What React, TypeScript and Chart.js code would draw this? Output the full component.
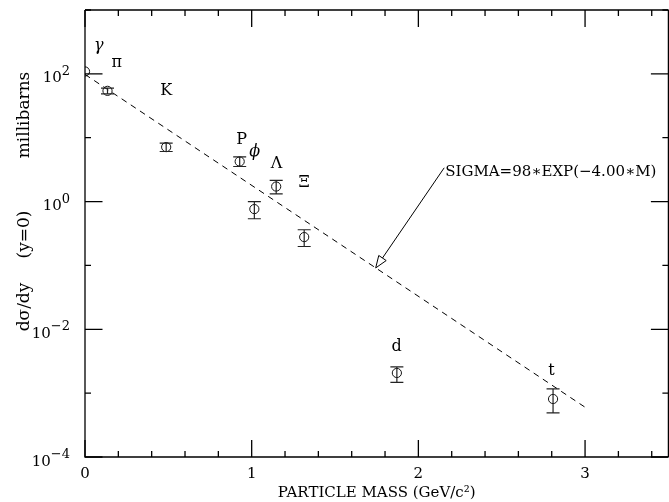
import React, { useEffect, useRef } from "react";
import { Chart, registerables } from "chart.js";

Chart.register(...registerables);

// ---- data ----
const particles = ["γ", "π", "K", "P", "ϕ", "Λ", "Ξ", "d", "t"];
const masses = [0, 0.135, 0.487, 0.928, 1.016, 1.147, 1.315, 1.871, 2.808];
const sigma = [109, 54.2, 7.13, 4.24, 0.763, 1.72, 0.278, 0.00207, 0.00081];
const sigmaHigh = [null, 59.7, 8.22, 5.02, 1.0, 2.14, 0.362, 0.00257, 0.001164];
const sigmaLow = [null, 48.6, 6.08, 3.54, 0.538, 1.32, 0.198, 0.001476, 0.00049];
const labelMass = [0.083, 0.19, 0.488, 0.94, 1.018, 1.149, 1.315, 1.869, 2.798];
const labelSigma = [274, 149, 54, 9.27, 6.0, 3.9, 1.97, 0.00535, 0.00225];
const fitMass = [0, 3];
const fitSigma = [98, 0.000602];
const xTickValues = [0, 1, 2, 3];
const xTickLabels = ["0", "1", "2", "3"];
const xMinorStep = 0.2;
const yTickValues = [1e-4, 1e-2, 1, 1e2];
const yTickBase = ["10", "10", "10", "10"];
const yTickExponents = ["−4", "−2", "0", "2"];
const yDecades = [-4, -3, -2, -1, 0, 1, 2, 3];
const annotationText = "SIGMA=98∗EXP(−4.00∗M)";
const arrowTipPoint = [1.744, 0.0914];
const arrowTailPoint = [2.155, 3.38];
const xTitle = "PARTICLE MASS (GeV/c²)";
const yTitleParts = ["dσ/dy", "(y=0)", "millibarns"];

const FONT = "'DejaVu Serif', serif";

const decorPlugin = {
  id: "decor",
  afterDraw(chart: any) {
    const { ctx, chartArea } = chart;
    const xs = chart.scales.x;
    const ys = chart.scales.y;
    const { left, right, top, bottom } = chartArea;
    ctx.save();
    ctx.strokeStyle = "#000";
    ctx.lineWidth = 1.3;
    // frame
    ctx.beginPath();
    ctx.moveTo(left, top);
    ctx.lineTo(right, top);
    ctx.moveTo(left, top);
    ctx.lineTo(left, bottom);
    ctx.lineTo(right, bottom);
    ctx.moveTo(right, top);
    ctx.lineTo(right, bottom);
    ctx.stroke();
    // x ticks (inward, top and bottom)
    ctx.beginPath();
    const nMinor = Math.round((xs.max - xs.min) / xMinorStep);
    for (let i = 0; i <= nMinor; i++) {
      const v = xs.min + i * xMinorStep;
      const px = xs.getPixelForValue(v);
      const major = xTickValues.some((t) => Math.abs(t - v) < 1e-6);
      const len = major ? 17 : 6;
      ctx.moveTo(px, bottom);
      ctx.lineTo(px, bottom - len);
      ctx.moveTo(px, top);
      ctx.lineTo(px, top + len);
    }
    // y ticks (inward, left and right)
    yDecades.forEach((e) => {
      const py = ys.getPixelForValue(Math.pow(10, e));
      const len = e % 2 === 0 ? 17.5 : 6;
      ctx.moveTo(left, py);
      ctx.lineTo(left + len, py);
      ctx.moveTo(right, py);
      ctx.lineTo(right - len, py);
    });
    ctx.stroke();

    // y tick labels: 10 with superscript exponent
    ctx.fillStyle = "#000";
    ctx.textBaseline = "alphabetic";
    ctx.textAlign = "right";
    yTickValues.forEach((v, i) => {
      const py = ys.getPixelForValue(v);
      const xr = left - 15;
      ctx.font = `13px ${FONT}`;
      const ew = ctx.measureText(yTickExponents[i]).width;
      ctx.fillText(yTickExponents[i], xr, py + 1);
      ctx.font = `15px ${FONT}`;
      ctx.fillText(yTickBase[i], xr - ew, py + 8.5);
    });

    // error bars
    ctx.strokeStyle = "#222";
    ctx.lineWidth = 1.2;
    ctx.beginPath();
    masses.forEach((m, i) => {
      const hi = sigmaHigh[i];
      const lo = sigmaLow[i];
      if (hi == null || lo == null) return;
      const px = xs.getPixelForValue(m);
      const ph = ys.getPixelForValue(hi);
      const pl = ys.getPixelForValue(lo);
      ctx.moveTo(px, ph);
      ctx.lineTo(px, pl);
      ctx.moveTo(px - 6.5, ph);
      ctx.lineTo(px + 6.5, ph);
      ctx.moveTo(px - 6.5, pl);
      ctx.lineTo(px + 6.5, pl);
    });
    ctx.stroke();

    // particle labels
    ctx.fillStyle = "#000";
    ctx.textAlign = "center";
    ctx.textBaseline = "middle";
    particles.forEach((p, i) => {
      const italic = p === "γ" || p === "ϕ";
      ctx.font = `${italic ? "italic " : ""}16px ${FONT}`;
      ctx.fillText(p, xs.getPixelForValue(labelMass[i]), ys.getPixelForValue(labelSigma[i]));
    });

    // annotation arrow
    const tx = xs.getPixelForValue(arrowTipPoint[0]);
    const ty = ys.getPixelForValue(arrowTipPoint[1]);
    const sx = xs.getPixelForValue(arrowTailPoint[0]);
    const sy = ys.getPixelForValue(arrowTailPoint[1]);
    const ang = Math.atan2(ty - sy, tx - sx);
    const headLen = 12;
    const headW = 4.5;
    const bx = tx - headLen * Math.cos(ang);
    const by = ty - headLen * Math.sin(ang);
    const nx = -Math.sin(ang);
    const ny = Math.cos(ang);
    ctx.strokeStyle = "#000";
    ctx.lineWidth = 1;
    ctx.beginPath();
    ctx.moveTo(sx, sy);
    ctx.lineTo(bx, by);
    ctx.moveTo(tx, ty);
    ctx.lineTo(bx + nx * headW, by + ny * headW);
    ctx.lineTo(bx - nx * headW, by - ny * headW);
    ctx.closePath();
    ctx.stroke();
    ctx.font = `15px ${FONT}`;
    ctx.textAlign = "left";
    ctx.textBaseline = "middle";
    ctx.fillText(annotationText, sx + 1, sy + 4);

    // y title
    ctx.font = `17px ${FONT}`;
    ctx.textAlign = "center";
    ctx.textBaseline = "alphabetic";
    const centers = [307, 234.5, 115];
    yTitleParts.forEach((t, i) => {
      ctx.save();
      ctx.translate(29, centers[i]);
      ctx.rotate(-Math.PI / 2);
      ctx.fillText(t, 0, 0);
      ctx.restore();
    });
    ctx.restore();
  },
};

export default function App() {
  const ref = useRef<HTMLCanvasElement | null>(null);
  useEffect(() => {
    if (!ref.current) return;
    const chart = new Chart(ref.current, {
      type: "scatter",
      data: {
        datasets: [
          {
            label: "fit",
            data: fitMass.map((m, i) => ({ x: m, y: fitSigma[i] })),
            showLine: true,
            borderColor: "#000",
            borderWidth: 1,
            borderDash: [6, 5],
            pointRadius: 0,
            fill: false,
          },
          {
            label: "data",
            data: masses.map((m, i) => ({ x: m, y: sigma[i] })),
            showLine: false,
            pointStyle: "circle",
            pointRadius: 4.6,
            pointBorderWidth: 1,
            pointBorderColor: "#111",
            pointBackgroundColor: "rgba(0,0,0,0)",
          },
        ],
      },
      options: {
        animation: false,
        responsive: false,
        maintainAspectRatio: false,
        devicePixelRatio: 1,
        layout: { padding: { top: 10, left: 0, right: 0, bottom: 0 } },
        plugins: { legend: { display: false }, tooltip: { enabled: false } },
        scales: {
          x: {
            type: "linear",
            min: 0,
            max: 3.5,
            grid: { display: false, drawTicks: false },
            border: { display: false },
            afterBuildTicks: (s: any) => {
              s.ticks = xTickValues.map((v) => ({ value: v }));
            },
            afterFit: (s: any) => {
              s.height = 45;
              s.paddingLeft = 0;
              s.paddingRight = 0;
            },
            ticks: {
              autoSkip: false,
              maxRotation: 0,
              padding: 8,
              color: "#000",
              font: { family: FONT, size: 15 },
              callback: (_v: any, i: number) => xTickLabels[i],
            },
            title: {
              display: true,
              text: xTitle,
              color: "#000",
              font: { family: FONT, size: 15 },
              padding: { top: 0, bottom: 0 },
            },
          },
          y: {
            type: "logarithmic",
            min: 1e-4,
            max: 1e3,
            grid: { display: false, drawTicks: false },
            border: { display: false },
            afterBuildTicks: (s: any) => {
              s.ticks = yTickValues.map((v) => ({ value: v }));
            },
            afterFit: (s: any) => {
              s.width = 85;
              s.paddingTop = 0;
              s.paddingBottom = 0;
            },
            ticks: {
              display: false,
            },
          },
        },
      },
      plugins: [decorPlugin],
    });
    return () => chart.destroy();
  }, []);
  return (
    <div
      style={{
        position: "fixed",
        left: 0,
        top: 0,
        width: 669,
        height: 502,
        overflow: "hidden",
        background: "#fff",
      }}
    >
      <canvas ref={ref} width={674} height={502} style={{ width: 674, height: 502, display: "block" }} />
    </div>
  );
}
